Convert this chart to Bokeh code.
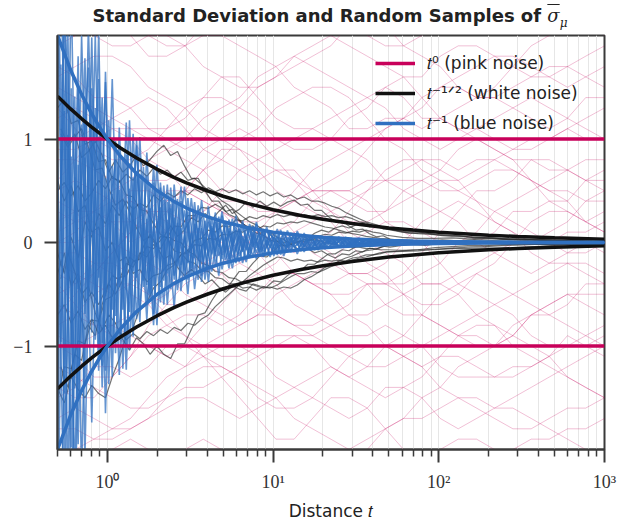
from bokeh.plotting import figure
from bokeh.models import FixedTicker, Legend, LegendItem, ColumnDataSource, Div
from bokeh.layouts import column
from bokeh.embed import file_html
from bokeh.resources import INLINE

# ---------------- data ----------------
CURVE_T = [0.5, 0.6, 0.7, 0.8, 0.9, 1, 1.2, 1.5, 2, 2.5, 3, 4, 5, 7, 10, 15, 20, 30, 50, 70,
           100, 200, 300, 500, 1000]
PINK_STD = [1.0, 1.0, 1.0, 1.0, 1.0, 1.0, 1.0, 1.0, 1.0, 1.0, 1.0, 1.0, 1.0, 1.0, 1.0, 1.0,
            1.0, 1.0, 1.0, 1.0, 1.0, 1.0, 1.0, 1.0, 1.0]
WHITE_STD = [1.414, 1.291, 1.195, 1.118, 1.054, 1.0, 0.913, 0.816, 0.707, 0.632, 0.577, 0.5,
             0.447, 0.378, 0.316, 0.258, 0.224, 0.183, 0.141, 0.120, 0.1, 0.0707, 0.0577,
             0.0447, 0.0316]
BLUE_STD = [2.0, 1.667, 1.429, 1.25, 1.111, 1.0, 0.833, 0.667, 0.5, 0.4, 0.333, 0.25, 0.2,
            0.143, 0.1, 0.0667, 0.05, 0.0333, 0.02, 0.0143, 0.01, 0.005, 0.0033, 0.002, 0.001]

PINK_T = [0.5, 0.64, 0.83, 1.07, 1.38, 1.77, 2.28, 2.94, 3.79, 4.88, 6.28, 8.09, 10.4, 13.4,
          17.3, 22.3, 28.7, 37, 47.6, 61.3, 79, 102, 131, 169, 217, 280, 361, 464, 598, 770, 1000]
PINK_SAMPLES = [
    [1.6, 1.7, 1.8, 1.8, 1.7, 1.5, 1.4, 1.3, 1.1, 1.0, 0.9, 0.8, 0.7, 0.6, 0.5, 0.5, 0.4, 0.3, 0.3, 0.4, 0.5, 0.6, 0.6, 0.7, 0.8, 0.9, 1.0, 1.0, 1.1, 1.2, 1.3],
    [-0.3, -0.4, -0.3, -0.1, 0.1, 0.2, 0.4, 0.5, 0.7, 0.8, 1.0, 1.1, 1.3, 1.4, 1.5, 1.5, 1.4, 1.2, 1.0, 0.9, 0.7, 0.6, 0.5, 0.4, 0.3, 0.2, 0.1, 0.0, -0.1, -0.1, 0.0],
    [0.8, 0.8, 0.7, 0.6, 0.4, 0.3, 0.2, 0.0, -0.2, -0.3, -0.5, -0.6, -0.7, -0.8, -0.9, -1.0, -1.1, -1.2, -1.2, -1.1, -1.0, -0.9, -0.8, -0.7, -0.6, -0.5, -0.6, -0.7, -0.8, -0.9, -1.0],
    [-1.2, -1.3, -1.4, -1.5, -1.6, -1.6, -1.5, -1.4, -1.4, -1.3, -1.2, -1.1, -1.0, -0.9, -0.9, -0.8, -0.7, -0.7, -0.6, -0.5, -0.4, -0.4, -0.5, -0.7, -0.8, -1.0, -1.1, -1.2, -1.3, -1.4, -1.5],
    [2.2, 2.1, 2.0, 1.9, 1.9, 2.0, 2.0, 1.9, 1.7, 1.6, 1.5, 1.5, 1.6, 1.7, 1.8, 1.9, 2.1, 2.2, 2.1, 1.9, 1.8, 1.7, 1.5, 1.4, 1.4, 1.5, 1.6, 1.7, 1.7, 1.6, 1.5],
    [0.1, 0.2, 0.3, 0.5, 0.6, 0.8, 0.9, 1.0, 1.2, 1.3, 1.4, 1.6, 1.7, 1.8, 1.7, 1.6, 1.5, 1.4, 1.3, 1.1, 1.0, 0.9, 1.0, 1.1, 1.2, 1.3, 1.4, 1.3, 1.2, 1.1, 1.0],
    [-0.6, -0.7, -0.8, -0.8, -0.7, -0.6, -0.5, -0.3, -0.2, -0.1, 0.0, 0.0, -0.1, -0.3, -0.4, -0.5, -0.7, -0.8, -1.0, -1.1, -1.2, -1.4, -1.5, -1.6, -1.7, -1.8, -1.8, -1.7, -1.6, -1.6, -1.5],
    [1.2, 1.3, 1.2, 1.1, 1.0, 0.8, 0.7, 0.5, 0.4, 0.3, 0.2, 0.1, 0.0, 0.1, 0.2, 0.3, 0.4, 0.5, 0.6, 0.7, 0.8, 0.8, 0.7, 0.8, 0.8, 0.7, 0.6, 0.5, 0.5, 0.4, 0.4],
    [-1.8, -1.8, -1.9, -1.9, -1.8, -1.7, -1.6, -1.5, -1.5, -1.6, -1.7, -1.6, -1.5, -1.4, -1.3, -1.2, -1.3, -1.4, -1.5, -1.4, -1.3, -1.1, -1.1, -1.2, -1.3, -1.3, -1.2, -1.1, -1.0, -1.0, -0.9],
    [0.4, 0.3, 0.1, 0.0, -0.1, -0.2, -0.3, -0.5, -0.6, -0.7, -0.8, -0.7, -0.5, -0.4, -0.3, -0.2, 0.0, 0.1, 0.2, 0.2, 0.1, 0.0, 0.0, 0.1, 0.3, 0.4, 0.5, 0.6, 0.7, 0.8, 0.8],
    [1.9, 2.0, 2.2, 2.2, 2.1, 2.0, 1.9, 1.9, 2.0, 2.0, 1.9, 1.8, 1.7, 1.5, 1.4, 1.3, 1.1, 1.1, 1.2, 1.2, 1.1, 1.2, 1.3, 1.4, 1.5, 1.7, 1.9, 2.0, 2.1, 2.1, 2.0],
    [-0.9, -1.0, -0.9, -0.8, -0.9, -1.0, -1.1, -1.2, -1.1, -1.0, -1.0, -1.1, -1.3, -1.4, -1.5, -1.6, -1.7, -1.6, -1.4, -1.4, -1.5, -1.7, -1.8, -1.7, -1.6, -1.5, -1.4, -1.3, -1.2, -1.1, -1.0],
    [0.5, 0.6, 0.5, 0.4, 0.2, 0.1, 0.1, 0.2, 0.3, 0.4, 0.4, 0.3, 0.3, 0.5, 0.7, 0.8, 0.9, 0.8, 0.6, 0.5, 0.4, 0.3, 0.2, 0.0, -0.1, -0.2, -0.3, -0.2, -0.1, 0.0, -0.1],
    [-0.1, -0.1, -0.2, -0.3, -0.5, -0.6, -0.8, -0.9, -1.1, -1.2, -1.3, -1.4, -1.5, -1.7, -1.8, -1.9, -2.0, -1.9, -1.8, -1.7, -1.5, -1.4, -1.2, -1.1, -1.0, -0.8, -0.7, -0.6, -0.5, -0.5, -0.5],
    [1.0, 1.0, 1.1, 1.2, 1.3, 1.4, 1.3, 1.1, 0.9, 0.8, 0.7, 0.6, 0.7, 0.7, 0.5, 0.3, 0.1, 0.0, -0.1, -0.2, -0.4, -0.4, -0.3, -0.2, -0.1, 0.0, 0.0, 0.1, 0.2, 0.4, 0.5],
    [-2.1, -2.0, -1.9, -1.8, -1.7, -1.5, -1.3, -1.2, -1.0, -0.9, -0.8, -0.7, -0.7, -0.8, -0.8, -0.7, -0.6, -0.4, -0.4, -0.5, -0.7, -0.8, -0.9, -1.0, -1.0, -0.9, -0.7, -0.6, -0.5, -0.6, -0.7],
    [0.0, 0.0, 0.1, 0.2, 0.2, 0.3, 0.5, 0.5, 0.4, 0.3, 0.2, 0.2, 0.3, 0.4, 0.5, 0.6, 0.7, 0.9, 1.1, 1.2, 1.4, 1.5, 1.6, 1.7, 1.8, 1.8, 1.7, 1.6, 1.5, 1.6, 1.7],
    [-0.4, -0.6, -0.8, -0.9, -1.0, -1.0, -1.1, -1.0, -0.8, -0.6, -0.4, -0.3, -0.2, 0.0, 0.0, -0.1, -0.3, -0.3, -0.2, 0.0, 0.2, 0.3, 0.4, 0.3, 0.2, 0.1, -0.1, -0.2, -0.2, -0.2, -0.3],
    [1.5, 1.4, 1.3, 1.2, 1.1, 1.1, 1.0, 0.9, 1.0, 1.2, 1.3, 1.5, 1.6, 1.8, 1.9, 2.0, 1.9, 1.8, 1.7, 1.6, 1.4, 1.2, 1.1, 1.0, 0.9, 0.8, 0.8, 0.7, 0.7, 0.6, 0.6],
    [-1.5, -1.4, -1.2, -1.2, -1.3, -1.2, -1.0, -1.0, -1.1, -1.3, -1.5, -1.7, -1.9, -1.9, -1.7, -1.5, -1.5, -1.6, -1.8, -2.0, -2.1, -2.0, -1.9, -1.9, -2.0, -2.0, -1.9, -1.9, -1.8, -1.8, -1.7],
    [0.6, 0.8, 1.0, 1.1, 1.1, 1.0, 0.9, 0.8, 0.7, 0.5, 0.5, 0.4, 0.3, 0.1, -0.1, -0.2, -0.3, -0.4, -0.6, -0.7, -0.7, -0.8, -0.9, -0.9, -1.0, -0.9, -0.7, -0.7, -0.6, -0.4, -0.4],
    [-0.7, -0.5, -0.3, -0.1, 0.1, 0.3, 0.3, 0.2, 0.3, 0.5, 0.7, 0.8, 0.9, 1.0, 1.1, 1.2, 1.3, 1.4, 1.5, 1.4, 1.2, 1.2, 1.1, 1.1, 1.0, 0.9, 0.9, 1.0, 1.1, 1.0, 1.0],
    [2.5, 2.3, 2.2, 2.1, 2.0, 1.8, 1.8, 1.9, 2.1, 2.2, 2.2, 2.2, 2.3, 2.4, 2.4, 2.3, 2.2, 2.0, 1.9, 1.9, 2.0, 2.1, 2.1, 2.2, 2.2, 2.2, 2.2, 2.3, 2.3, 2.3, 2.3],
    [-0.2, -0.3, -0.4, -0.5, -0.4, -0.2, 0.0, 0.1, 0.1, 0.0, -0.2, -0.3, -0.4, -0.6, -0.7, -0.8, -0.9, -0.9, -0.8, -0.9, -1.0, -1.2, -1.3, -1.3, -1.3, -1.2, -1.2, -1.1, -0.9, -1.0, -1.1],
    [1.7, 1.6, 1.4, 1.4, 1.3, 1.1, 1.1, 1.2, 1.4, 1.6, 1.6, 1.4, 1.2, 1.1, 1.1, 1.0, 0.9, 1.0, 1.1, 1.2, 1.3, 1.5, 1.5, 1.4, 1.4, 1.3, 1.2, 1.1, 1.2, 1.4, 1.4],
    [-1.0, -1.1, -1.3, -1.3, -1.1, -0.9, -0.8, -0.7, -0.7, -0.8, -0.7, -0.5, -0.3, -0.3, -0.4, -0.4, -0.3, -0.3, -0.4, -0.4, -0.3, -0.2, 0.0, 0.0, 0.1, 0.3, 0.3, 0.4, 0.3, 0.2, 0.1],
    [0.3, 0.2, 0.2, 0.3, 0.5, 0.5, 0.4, 0.5, 0.7, 0.9, 0.9, 0.7, 0.5, 0.4, 0.5, 0.5, 0.5, 0.6, 0.6, 0.6, 0.6, 0.5, 0.5, 0.6, 0.7, 0.7, 0.6, 0.4, 0.4, 0.6, 0.7],
    [-2.3, -2.2, -2.1, -2.0, -1.9, -2.0, -2.1, -2.0, -1.9, -2.0, -2.1, -2.2, -2.2, -2.1, -2.2, -2.3, -2.2, -2.0, -1.8, -1.7, -1.7, -1.6, -1.5, -1.5, -1.6, -1.6, -1.7, -1.8, -1.9, -2.0, -2.0],
    [0.2, 0.3, 0.3, 0.2, 0.0, 0.1, 0.3, 0.5, 0.5, 0.3, 0.1, -0.1, -0.3, -0.3, -0.4, -0.5, -0.5, -0.4, -0.4, -0.3, -0.1, 0.1, 0.3, 0.5, 0.5, 0.6, 0.8, 0.8, 0.7, 0.6, 0.5],
    [-1.4, -1.5, -1.5, -1.3, -1.1, -0.8, -0.6, -0.4, -0.3, -0.2, 0.0, 0.1, 0.0, -0.1, 0.0, 0.1, 0.3, 0.5, 0.7, 0.8, 0.8, 0.7, 0.6, 0.4, 0.2, 0.1, 0.0, 0.0, 0.1, 0.1, 0.2],
    [0.9, 0.9, 1.0, 0.9, 0.7, 0.6, 0.6, 0.7, 0.9, 1.0, 1.1, 1.0, 0.8, 0.6, 0.4, 0.3, 0.2, 0.2, 0.3, 0.5, 0.6, 0.7, 0.9, 1.0, 0.9, 0.8, 0.6, 0.5, 0.4, 0.2, 0.1],
    [-0.5, -0.4, -0.2, -0.2, -0.3, -0.5, -0.6, -0.6, -0.5, -0.3, -0.2, -0.1, 0.1, 0.2, 0.4, 0.5, 0.5, 0.4, 0.2, 0.1, 0.0, -0.2, -0.4, -0.5, -0.6, -0.7, -0.9, -1.0, -1.0, -0.9, -0.8],
    [1.3, 1.1, 0.9, 0.8, 0.8, 0.9, 1.1, 1.3, 1.4, 1.4, 1.3, 1.2, 1.0, 0.9, 0.9, 1.0, 1.2, 1.3, 1.5, 1.6, 1.6, 1.8, 1.9, 1.9, 1.8, 1.7, 1.6, 1.6, 1.7, 1.8, 1.9],
    [-0.8, -0.7, -0.5, -0.4, -0.4, -0.5, -0.7, -0.9, -1.0, -1.1, -1.1, -1.0, -0.9, -0.9, -1.0, -1.2, -1.3, -1.2, -1.0, -0.9, -0.7, -0.5, -0.4, -0.3, -0.4, -0.5, -0.4, -0.3, -0.2, -0.3, -0.4],
    [0.0, 0.1, 0.3, 0.4, 0.4, 0.3, 0.1, -0.1, -0.2, -0.2, -0.1, 0.1, 0.3, 0.4, 0.3, 0.2, 0.0, -0.2, -0.3, -0.5, -0.6, -0.6, -0.5, -0.3, -0.2, 0.0, 0.2, 0.3, 0.3, 0.2, 0.3],
    [-1.7, -1.6, -1.7, -1.8, -1.8, -1.7, -1.5, -1.3, -1.2, -1.2, -1.3, -1.5, -1.6, -1.6, -1.5, -1.3, -1.1, -1.0, -1.0, -1.1, -1.2, -1.1, -0.9, -0.8, -0.8, -0.9, -1.0, -1.1, -1.3, -1.4, -1.5],
]

SAMPLE_T_A = [0.5, 0.55, 0.605, 0.666, 0.732, 0.805, 0.886, 0.974, 1.07, 1.18,
              1.30, 1.43, 1.57, 1.73, 1.90, 2.09, 2.30, 2.53, 2.78, 3.06,
              3.36, 3.70, 4.07, 4.48, 4.92, 5.42, 5.96, 6.55, 7.21, 7.93,
              8.72, 9.60, 10.6, 11.6, 12.8, 14.0, 15.4, 17.0, 18.7, 20.6,
              22.6, 24.9, 27.4, 30.1, 33.1, 36.4, 40.1, 44.1, 48.5, 60,
              75, 95, 120, 150, 190, 240, 300, 380, 480, 600, 760, 1000]
SAMPLE_T_B = [0.524, 0.577, 0.635, 0.699, 0.768, 0.845, 0.930, 1.02, 1.12, 1.24,
              1.36, 1.50, 1.65, 1.81, 1.99, 2.19, 2.41, 2.65, 2.92, 3.21,
              3.53, 3.88, 4.27, 4.70, 5.17, 5.68, 6.25, 6.88, 7.56, 8.32,
              9.15, 10.1, 11.1, 12.2, 13.4, 14.7, 16.2, 17.8, 19.6, 21.6,
              23.7, 26.1, 28.7, 31.6, 34.7, 38.2, 42.0, 46.2, 50.8, 66,
              83, 105, 130, 165, 210, 265, 330, 420, 530, 660, 840, 1000]
BLUE_T_B = SAMPLE_T_B[:49] + [200, 1000]

WHITE_SAMPLES_A = [
    [0.50, 0.58, 0.45, 0.55, 0.40, 0.48, 0.60, 0.52, 0.64, 0.58, 0.66, 0.60, 0.70, 0.64, 0.72, 0.66, 0.70, 0.63, 0.68, 0.60,
     0.62, 0.56, 0.50, 0.46, 0.40, 0.36, 0.30, 0.25, 0.20, 0.17, 0.12, 0.10, 0.05, 0.03, -0.02, 0.0, 0.03, 0.02, 0.06, 0.08,
     0.07, 0.10, 0.09, 0.11, 0.10, 0.12, 0.10, 0.09, 0.07, 0.05, 0.04, 0.04, 0.045, 0.035, 0.04, 0.032, 0.036, 0.03, 0.024, 0.02, 0.014, 0.01],
    [-0.70, -0.60, -0.78, -0.66, -0.84, -0.74, -0.88, -0.80, -0.92, -0.86, -0.94, -0.88, -0.93, -0.86, -0.90, -0.84, -0.88, -0.82, -0.85, -0.78,
     -0.80, -0.74, -0.70, -0.62, -0.56, -0.50, -0.44, -0.38, -0.32, -0.27, -0.22, -0.18, -0.14, -0.15, -0.18, -0.16, -0.18, -0.17, -0.19, -0.17,
     -0.18, -0.17, -0.18, -0.15, -0.14, -0.12, -0.12, -0.10, -0.09, -0.08, -0.07, -0.05, -0.04, -0.03, -0.03, -0.02, -0.016, -0.01, -0.01, -0.01, -0.006, -0.005],
    [-1.41, -1.55, -1.30, -1.42, -1.50, -1.38, -1.46, -1.50, -1.30, -1.12, -0.90, -0.82, -0.64, -0.58, -0.44, -0.38, -0.26, -0.22, -0.12, -0.08,
     0.02, 0.04, 0.12, 0.10, 0.16, 0.15, 0.22, 0.21, 0.25, 0.23, 0.26, 0.24, 0.27, 0.25, 0.27, 0.25, 0.27, 0.25, 0.27, 0.25,
     0.26, 0.24, 0.25, 0.23, 0.20, 0.19, 0.16, 0.15, 0.13, 0.10, 0.085, 0.075, 0.06, 0.055, 0.045, 0.038, 0.028, 0.024, 0.016, 0.014, 0.009, 0.01],
    [1.30, 1.38, 1.15, 1.18, 0.95, 0.98, 0.78, 0.80, 0.62, 0.60, 0.46, 0.44, 0.32, 0.30, 0.18, 0.08, 0.04, -0.08, -0.10, -0.18,
     -0.20, -0.27, -0.28, -0.34, -0.35, -0.40, -0.40, -0.44, -0.43, -0.46, -0.43, -0.44, -0.41, -0.37, -0.33, -0.30, -0.30, -0.28, -0.29, -0.26,
     -0.23, -0.21, -0.19, -0.17, -0.15, -0.14, -0.12, -0.11, -0.09, -0.085, -0.08, -0.065, -0.055, -0.045, -0.04, -0.03, -0.026, -0.018, -0.016, -0.01, -0.009, -0.004],
    [-0.10, -0.30, 0.05, -0.15, 0.20, 0.05, 0.28, 0.18, 0.36, 0.26, 0.40, 0.32, 0.38, 0.34, 0.46, 0.40, 0.48, 0.44, 0.50, 0.46,
     0.52, 0.48, 0.53, 0.49, 0.52, 0.48, 0.51, 0.47, 0.50, 0.46, 0.49, 0.45, 0.48, 0.44, 0.46, 0.42, 0.44, 0.40, 0.40, 0.38,
     0.35, 0.33, 0.29, 0.26, 0.23, 0.20, 0.18, 0.16, 0.13, 0.11, 0.10, 0.08, 0.07, 0.055, 0.05, 0.038, 0.034, 0.025, 0.022, 0.015, 0.013, 0.007],
    [-0.30, -0.10, -0.42, -0.30, -0.58, -0.48, -0.60, -0.46, -0.32, -0.36, -0.20, -0.24, -0.10, -0.14, -0.02, -0.06, 0.06, 0.02, 0.0, -0.08,
     -0.12, -0.20, -0.22, -0.28, -0.29, -0.34, -0.35, -0.39, -0.40, -0.42, -0.44, -0.43, -0.45, -0.43, -0.44, -0.41, -0.36, -0.33, -0.29, -0.24,
     -0.22, -0.18, -0.15, -0.13, -0.10, -0.08, -0.07, -0.05, -0.03, -0.025, -0.01, -0.006, 0.0, -0.004, -0.01, -0.01, -0.014, -0.012, -0.016, -0.014, -0.016, -0.013],
    [0.60, 0.40, 0.55, 0.30, 0.36, 0.10, 0.15, -0.08, 0.0, -0.18, -0.14, -0.30, -0.26, -0.38, -0.32, -0.30, -0.22, -0.20, -0.12, -0.10,
     -0.02, -0.03, 0.04, 0.03, 0.08, 0.07, 0.11, 0.10, 0.14, 0.12, 0.16, 0.15, 0.19, 0.18, 0.20, 0.19, 0.21, 0.19, 0.17, 0.15,
     0.14, 0.12, 0.10, 0.085, 0.075, 0.06, 0.05, 0.04, 0.035, 0.02, 0.015, 0.008, 0.004, -0.002, -0.005, -0.009, -0.01, -0.013, -0.012, -0.015, -0.014, -0.016],
    [-1.50, -1.20, -1.22, -0.95, -0.98, -0.75, -0.76, -0.55, -0.52, -0.34, -0.32, -0.18, -0.16, -0.04, -0.06, 0.06, 0.05, 0.16, 0.15, 0.26,
     0.26, 0.34, 0.33, 0.37, 0.33, 0.27, 0.24, 0.18, 0.14, 0.09, 0.07, 0.02, 0.01, -0.03, -0.02, 0.01, 0.01, 0.03, 0.02, 0.0,
     -0.01, -0.03, -0.03, -0.045, -0.045, -0.06, -0.06, -0.07, -0.07, -0.075, -0.07, -0.068, -0.06, -0.058, -0.055, -0.055, -0.05, -0.04, -0.03, -0.024, -0.02, -0.014],
]
WHITE_SAMPLES_B = [
    [1.05, 0.92, 1.02, 1.10, 0.92, 0.70, 0.72, 0.52, 0.36, 0.42, 0.30, 0.14, 0.02, 0.06, -0.04, -0.16, -0.12, -0.24, -0.32, -0.26,
     -0.32, -0.40, -0.36, -0.43, -0.48, -0.42, -0.45, -0.47, -0.40, -0.42, -0.43, -0.37, -0.38, -0.32, -0.27, -0.27, -0.21, -0.21, -0.16, -0.11,
     -0.11, -0.07, -0.08, -0.04, -0.01, -0.03, -0.01, 0.01, 0.0, 0.018, 0.01, 0.025, 0.015, 0.028, 0.02, 0.028, 0.02, 0.028, 0.02, 0.02, 0.013, 0.012],
    [-0.35, -0.10, -0.28, -0.50, -0.42, -0.68, -0.84, -0.70, -0.78, -0.94, -1.04, -0.92, -0.98, -1.08, -1.00, -1.08, -1.12, -0.98, -0.98, -0.84,
     -0.70, -0.68, -0.56, -0.46, -0.46, -0.37, -0.28, -0.28, -0.20, -0.13, -0.14, -0.08, -0.02, -0.04, 0.02, 0.06, 0.04, 0.09, 0.12, 0.10,
     0.14, 0.16, 0.14, 0.17, 0.19, 0.15, 0.16, 0.13, 0.13, 0.09, 0.09, 0.065, 0.07, 0.045, 0.045, 0.028, 0.03, 0.018, 0.02, 0.01, 0.012, 0.009],
    [1.10, 0.95, 1.05, 0.82, 0.88, 0.98, 0.84, 0.68, 0.80, 0.68, 0.74, 0.84, 0.74, 0.80, 0.88, 0.94, 0.84, 0.88, 0.74, 0.62,
     0.62, 0.50, 0.40, 0.40, 0.30, 0.32, 0.22, 0.15, 0.16, 0.09, 0.11, 0.04, -0.01, 0.01, -0.04, -0.08, -0.06, -0.10, -0.08, -0.12,
     -0.15, -0.11, -0.12, -0.08, -0.09, -0.055, -0.065, -0.035, -0.045, -0.018, -0.028, -0.005, -0.015, 0.004, -0.004, 0.01, 0.003, 0.013, 0.006, 0.008, 0.002, 0.003],
    [-1.20, -1.40, -1.08, -1.14, -0.80, -0.90, -0.60, -0.40, -0.50, -0.36, -0.14, -0.20, -0.04, 0.08, -0.02, 0.06, 0.16, 0.06, 0.12, 0.24,
     0.20, 0.28, 0.22, 0.30, 0.36, 0.28, 0.32, 0.39, 0.34, 0.40, 0.35, 0.39, 0.35, 0.39, 0.41, 0.36, 0.37, 0.31, 0.31, 0.25,
     0.20, 0.21, 0.16, 0.12, 0.13, 0.085, 0.055, 0.065, 0.03, 0.005, 0.018, -0.006, 0.006, -0.013, -0.002, -0.016, -0.007, -0.018, -0.01, -0.018, -0.011, -0.012],
]

BLUE_SAMPLES_A = [
    [2.4, -1.46, 2.48, -1.5, 0.82, -1.74, 1.02, -0.52, 1.58, -0.94, 0.31, -0.91, 0.64, -0.41, 0.74, -0.43, 0.22, -0.64, 0.40, -0.20,
     0.39, -0.32, 0.20, -0.09, 0.30, -0.18, 0.12, -0.20, 0.13, -0.10, 0.13, -0.05, 0.13, -0.095, 0.047, -0.11, 0.065, -0.053, 0.069, -0.034,
     0.035, -0.048, 0.04, -0.02, 0.042, -0.027, 0.013, -0.03, 0.019, -0.015, 0.012, -0.008, 0.01, -0.005, 0.006, -0.004, 0.003, -0.002, 0.002, -0.001, 0.001, 0.0],
    [-2.0, 2.55, -0.99, 1.8, -2.06, 0.99, -1.24, 1.65, -0.65, 0.85, -1.0, 0.35, -0.77, 0.87, -0.42, 0.53, -0.60, 0.24, -0.32, 0.43,
     -0.15, 0.27, -0.38, 0.20, -0.12, 0.22, -0.19, 0.06, -0.14, 0.18, -0.08, 0.11, -0.085, 0.043, -0.094, 0.092, -0.039, 0.059, -0.074, 0.039,
     -0.022, 0.048, -0.036, 0.023, -0.033, 0.024, -0.033, 0.014, -0.017, 0.014, -0.01, 0.009, -0.006, 0.005, -0.004, 0.004, -0.002, 0.002, -0.001, 0.001, -0.001, 0.0],
    [0.8, -2.9, 1.49, -0.45, 1.78, -0.87, 2.03, -1.24, 0.47, -1.28, 0.85, -0.28, 1.02, -0.58, 0.16, -0.58, 0.39, -0.32, 0.54, -0.36,
     0.18, -0.38, 0.25, -0.13, 0.26, -0.16, 0.26, -0.075, 0.15, -0.16, 0.09, -0.14, 0.056, -0.086, 0.094, -0.028, 0.091, -0.065, 0.027, -0.064,
     0.04, -0.028, 0.054, -0.033, 0.018, -0.032, 0.028, -0.018, 0.021, -0.012, 0.014, -0.008, 0.007, -0.006, 0.004, -0.003, 0.003, -0.002, 0.001, -0.002, 0.001, 0.0],
    [-3.0, 1.27, -1.98, 1.5, -0.69, 1.98, -1.02, 0.62, -1.30, 1.11, -0.46, 1.05, -0.26, 0.64, -0.69, 0.34, -0.43, 0.56, -0.22, 0.30,
     -0.45, 0.14, -0.28, 0.29, -0.16, 0.11, -0.20, 0.15, -0.10, 0.20, -0.11, 0.04, -0.12, 0.095, -0.039, 0.064, -0.091, 0.041, -0.053, 0.059,
     -0.026, 0.056, -0.029, 0.036, -0.015, 0.035, -0.023, 0.016, -0.025, 0.01, -0.012, 0.01, -0.006, 0.006, -0.004, 0.003, -0.003, 0.002, -0.002, 0.001, -0.001, 0.0],
    [3.6, -2.0, 0.83, -1.95, 1.37, -0.50, 1.58, -1.65, 0.74, -0.43, 1.16, -0.70, 0.38, -0.75, 0.58, -0.24, 0.56, -0.36, 0.14, -0.50,
     0.30, -0.19, 0.35, -0.22, 0.10, -0.25, 0.15, -0.09, 0.18, -0.05, 0.11, -0.12, 0.075, -0.13, 0.055, -0.078, 0.039, -0.077, 0.053, -0.02,
     0.057, -0.04, 0.018, -0.046, 0.027, -0.016, 0.03, -0.025, 0.015, -0.013, 0.008, -0.01, 0.006, -0.004, 0.005, -0.003, 0.002, -0.002, 0.002, -0.001, 0.001, 0.0],
    [-1.2, 2.37, -2.8, 0.75, -1.37, 1.49, -0.34, 1.55, -1.02, 0.51, -1.23, 0.63, -0.64, 0.23, -0.80, 0.58, -0.30, 0.40, -0.47, 0.20,
     -0.30, 0.41, -0.13, 0.24, -0.26, 0.14, -0.085, 0.21, -0.15, 0.09, -0.14, 0.09, -0.047, 0.10, -0.07, 0.11, -0.046, 0.059, -0.064, 0.029,
     -0.048, 0.036, -0.047, 0.013, -0.03, 0.032, -0.015, 0.03, -0.011, 0.012, -0.01, 0.008, -0.007, 0.004, -0.005, 0.003, -0.002, 0.002, -0.001, 0.001, -0.001, 0.0],
]
BLUE_SAMPLES_B = [
    [1.72, -2.25, 0.63, -1.0, 2.08, -0.35, -1.19, 1.18, -0.71, 0.41, -1.04, 0.67, 0.18, -0.50, 0.75, -0.28, 0.33, -0.46, 0.07, -0.31,
     0.36, -0.10, 0.16, -0.32, 0.21, -0.036, 0.14, -0.16, 0.078, -0.096, 0.15, -0.13, 0.027, -0.049, 0.075, -0.082, 0.031, 0.05, -0.051, 0.018,
     -0.029, 0.049, -0.032, 0.019, -0.032, 0.021, -0.007, 0.026, -0.010, 0.002, 0.0],
    [-3.06, 1.04, -1.41, 2.0, -0.52, 1.30, -1.40, 0.20, 0.80, -1.22, 0.52, -0.34, 0.73, -0.55, 0.20, -0.60, 0.37, -0.11, 0.54, -0.25,
     0.14, -0.29, 0.23, -0.13, 0.057, -0.25, 0.13, -0.073, 0.16, -0.11, 0.022, -0.10, 0.12, -0.033, 0.053, -0.075, 0.062, -0.034, 0.02, -0.055,
     0.038, -0.011, 0.039, -0.026, 0.015, -0.026, 0.017, -0.009, 0.018, -0.002, 0.0],
    [0.57, 2.08, -2.36, 1.14, -0.78, 2.0, -0.97, 0.49, -1.07, 0.81, -0.22, 0.94, -0.43, 0.33, -0.80, 0.41, -0.16, 0.42, -0.34, 0.093,
     -0.36, 0.21, -0.115, 0.25, -0.17, 0.108, -0.19, 0.145, -0.039, 0.084, -0.12, 0.05, -0.081, 0.115, -0.045, 0.014, -0.062, 0.062, -0.036, 0.041,
     -0.017, 0.038, -0.046, 0.016, -0.023, 0.029, -0.014, 0.007, -0.02, 0.002, 0.0],
    [-0.96, 1.73, -2.83, 0.57, 1.69, -0.94, 0.65, -1.37, 0.98, -0.16, -0.67, 1.0, -0.37, 0.55, -0.15, 0.55, -0.45, 0.19, -0.27, 0.43,
     -0.17, 0.052, -0.28, 0.19, -0.095, 0.23, -0.13, 0.058, -0.13, 0.14, -0.044, 0.08, -0.117, 0.049, -0.015, 0.075, -0.056, 0.017, -0.061, 0.032,
     -0.021, 0.046, -0.021, 0.029, -0.029, 0.008, -0.019, 0.024, -0.008, 0.001, 0.0],
    [2.67, -0.69, 1.41, -2.29, 0.91, -0.59, 1.40, -0.98, 0.27, -0.65, 1.18, -0.74, 0.24, -0.28, 0.50, -0.37, 0.53, -0.23, 0.31, -0.093,
     0.31, -0.36, 0.14, -0.042, 0.19, -0.16, 0.064, -0.19, 0.10, -0.072, 0.12, -0.07, 0.036, -0.082, 0.09, -0.034, 0.037, -0.073, 0.046, -0.009,
     0.042, -0.03, 0.018, -0.035, 0.02, -0.010, 0.029, -0.02, 0.012, -0.002, 0.0],
]

X_TICKS = [1, 10, 100, 1000]
X_TICK_LABELS = ["10\u2070", "10\u00b9", "10\u00b2", "10\u00b3"]
X_MINOR = [0.5, 0.6, 0.7, 0.8, 0.9, 2, 3, 4, 5, 6, 7, 8, 9, 20, 30, 40, 50, 60, 70, 80, 90,
           200, 300, 400, 500, 600, 700, 800, 900]
Y_TICKS = [-1, 0, 1]
Y_TICK_LABELS = ["\u22121", "0", "1"]
LEGEND_LABELS = ["\U0001d461\u2070 (pink noise)",
                 "\U0001d461\u207b\u00b9\u141f\u00b2 (white noise)",
                 "\U0001d461\u207b\u00b9 (blue noise)"]
TITLE_MAIN = "Standard Deviation and Random Samples of"
TITLE_SYMBOL = "\u03c3"
TITLE_SUB = "\u03bc"

PINK = "#c8005a"
BLACK = "#111111"
BLUE = "#3070c0"
FRAME = "#3a3a3a"


def pair(xgrid, rows):
    xs, ys = [], []
    for r in rows:
        n = min(len(xgrid), len(r))
        xs.append(xgrid[:n])
        ys.append(r[:n])
    return ColumnDataSource(dict(xs=xs, ys=ys))


p = figure(width=618, height=490, x_axis_type="log", x_range=(0.5, 1000), y_range=(-2, 2),
           output_backend="svg", toolbar_location=None, title=None,
           min_border_left=57, min_border_right=14, min_border_top=2, min_border_bottom=74)
p.background_fill_color = "white"
p.border_fill_color = "white"
p.outline_line_color = FRAME
p.outline_line_width = 2

# random samples
p.multi_line("xs", "ys", source=pair(PINK_T, PINK_SAMPLES), line_color=PINK, line_alpha=0.25, line_width=1)
p.multi_line("xs", "ys", source=pair(SAMPLE_T_A, WHITE_SAMPLES_A), line_color="#2a2a2a", line_alpha=0.65, line_width=1.2)
p.multi_line("xs", "ys", source=pair(SAMPLE_T_B, WHITE_SAMPLES_B), line_color="#2a2a2a", line_alpha=0.65, line_width=1.2)
p.multi_line("xs", "ys", source=pair(SAMPLE_T_A, BLUE_SAMPLES_A), line_color=BLUE, line_alpha=0.75, line_width=1.6)
p.multi_line("xs", "ys", source=pair(BLUE_T_B, BLUE_SAMPLES_B), line_color=BLUE, line_alpha=0.75, line_width=1.6)

# standard deviation envelopes
neg = lambda a: [-v for v in a]
r_pink = p.line(CURVE_T, PINK_STD, line_color=PINK, line_width=3.5)
p.line(CURVE_T, neg(PINK_STD), line_color=PINK, line_width=3.5)
r_white = p.line(CURVE_T, WHITE_STD, line_color=BLACK, line_width=3.5)
p.line(CURVE_T, neg(WHITE_STD), line_color=BLACK, line_width=3.5)
r_blue = p.line(CURVE_T, BLUE_STD, line_color=BLUE, line_width=3.5)
p.line(CURVE_T, neg(BLUE_STD), line_color=BLUE, line_width=3.5)

# axes
p.xaxis.ticker = FixedTicker(ticks=X_TICKS, minor_ticks=X_MINOR)
p.xaxis.major_label_overrides = {t: s for t, s in zip(X_TICKS, X_TICK_LABELS)}
p.yaxis.ticker = FixedTicker(ticks=Y_TICKS)
p.yaxis.major_label_overrides = {t: s for t, s in zip(Y_TICKS, Y_TICK_LABELS)}
for ax in (p.xaxis[0], p.yaxis[0]):
    ax.axis_line_color = FRAME
    ax.axis_line_width = 2
    ax.major_tick_line_color = FRAME
    ax.major_tick_line_width = 2
    ax.major_tick_out = 13
    ax.major_tick_in = 0
    ax.minor_tick_line_color = FRAME
    ax.minor_tick_line_width = 1.5
    ax.minor_tick_out = 7
    ax.minor_tick_in = 0
    ax.major_label_text_font = "Liberation Serif"
    ax.major_label_text_font_size = "18px"
    ax.major_label_text_color = "#333333"
p.yaxis.major_label_standoff = 12
p.xaxis.major_label_standoff = 9
p.xaxis.axis_label = "Distance \U0001d461"
p.xaxis.axis_label_text_font = "DejaVu Sans"
p.xaxis.axis_label_text_font_style = "normal"
p.xaxis.axis_label_text_font_size = "17px"
p.xaxis.axis_label_text_color = "#222222"
p.xaxis.axis_label_standoff = 6

p.xgrid.grid_line_color = "#e6e6e6"
p.xgrid.minor_grid_line_color = "#e6e6e6"
p.ygrid.grid_line_color = None

legend = Legend(items=[LegendItem(label=LEGEND_LABELS[0], renderers=[r_pink]),
                       LegendItem(label=LEGEND_LABELS[1], renderers=[r_white]),
                       LegendItem(label=LEGEND_LABELS[2], renderers=[r_blue])],
                location=(318, 316))
legend.border_line_color = None
legend.background_fill_alpha = 0.0
legend.label_text_font = "DejaVu Sans"
legend.label_text_font_size = "17px"
legend.label_text_color = "#222222"
legend.glyph_width = 40
legend.glyph_height = 20
legend.spacing = 10
legend.padding = 8
legend.label_standoff = 12
legend.margin = 0
p.add_layout(legend)

title_html = (
    '<div style="width:618px;height:33px;box-sizing:border-box;padding:5px 0 0 42px;'
    'text-align:center;white-space:nowrap;color:#222222;font-family:\'DejaVu Sans\';'
    'font-weight:bold;font-size:18px;line-height:22px;">' + TITLE_MAIN + ' '
    '<span style="font-family:\'DejaVu Serif\';font-style:italic;font-weight:normal;'
    'text-decoration:overline;">' + TITLE_SYMBOL + '</span>'
    '<sub style="font-family:\'DejaVu Serif\';font-style:italic;font-weight:normal;'
    'font-size:12px;line-height:0;">' + TITLE_SUB + '</sub></div>'
)
title = Div(text=title_html, width=618, height=33, margin=(0, 0, 0, 0))

layout = column(title, p, spacing=0, margin=(0, 0, 0, 0))
open("out.html", "w").write(file_html(layout, INLINE))
